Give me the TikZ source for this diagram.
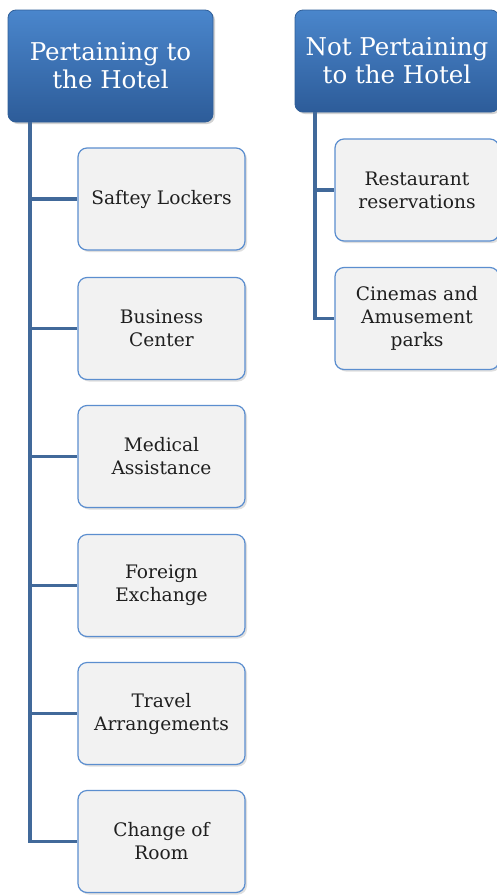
\documentclass[tikz,border=0pt]{standalone}
\usepackage{fontspec}
\setmainfont{DejaVu Serif}
\usetikzlibrary{shadows,calc}
\definecolor{hdtop}{HTML}{4A86CC}
\definecolor{hdbot}{HTML}{2D5C99}
\definecolor{hdline}{HTML}{2F5E98}
\definecolor{conncol}{HTML}{41699A}
\definecolor{childfill}{HTML}{F2F2F2}
\definecolor{childline}{HTML}{5B8ECF}
\tikzset{
  header/.style={rounded corners=8pt, top color=hdtop, bottom color=hdbot, draw=hdline, line width=0.8pt,
    text=white, align=center, font=\fontsize{24.5}{28}\selectfont, inner sep=0pt,
    drop shadow={opacity=0.35, shadow xshift=2pt, shadow yshift=-2pt}},
  child/.style={rounded corners=9pt, fill=childfill, draw=childline, line width=1.2pt,
    text=black!88, align=center, font=\fontsize{18.6}{23}\selectfont, inner sep=0pt,
    minimum height=102pt,
    drop shadow={opacity=0.25, shadow xshift=2pt, shadow yshift=-2pt}},
  conn/.style={draw=conncol, line width=3.8pt}
}
\begin{document}
\begin{tikzpicture}[x=1pt,y=-1pt]
\useasboundingbox[fill=white] (0,0) rectangle (497,895);
% headers
\node[header, minimum width=205pt, minimum height=112pt] (h1) at (110.5,66) {Pertaining to\\the Hotel};
\node[header, minimum width=204pt, minimum height=102pt] (h2) at (397,61) {Not Pertaining\\to the Hotel};
% left children
\node[child, minimum width=167pt] (c1) at (161.5,199) {Saftey Lockers};
\node[child, minimum width=167pt] (c2) at (161.5,328.5) {Business\\Center};
\node[child, minimum width=167pt] (c3) at (161.5,456.5) {Medical\\Assistance};
\node[child, minimum width=167pt] (c4) at (161.5,585.5) {Foreign\\Exchange};
\node[child, minimum width=167pt] (c5) at (161.5,713.5) {Travel\\Arrangements};
\node[child, minimum width=167pt] (c6) at (161.5,841.5) {Change of\\Room};
% right children
\node[child, minimum width=164pt] (r1) at (417,190) {Restaurant\\reservations};
\node[child, minimum width=164pt] (r2) at (417,318.5) {Cinemas and\\Amusement\\parks};
% connectors
\coordinate (t1) at ($(h1.south west)+(22,0)$);
\coordinate (t2) at ($(h2.south west)+(20,0)$);
\foreach \c in {c1,c2,c3,c4,c5,c6} \draw[conn] (t1) |- (\c.west);
\foreach \c in {r1,r2} \draw[conn] (t2) |- (\c.west);
\end{tikzpicture}
\end{document}
